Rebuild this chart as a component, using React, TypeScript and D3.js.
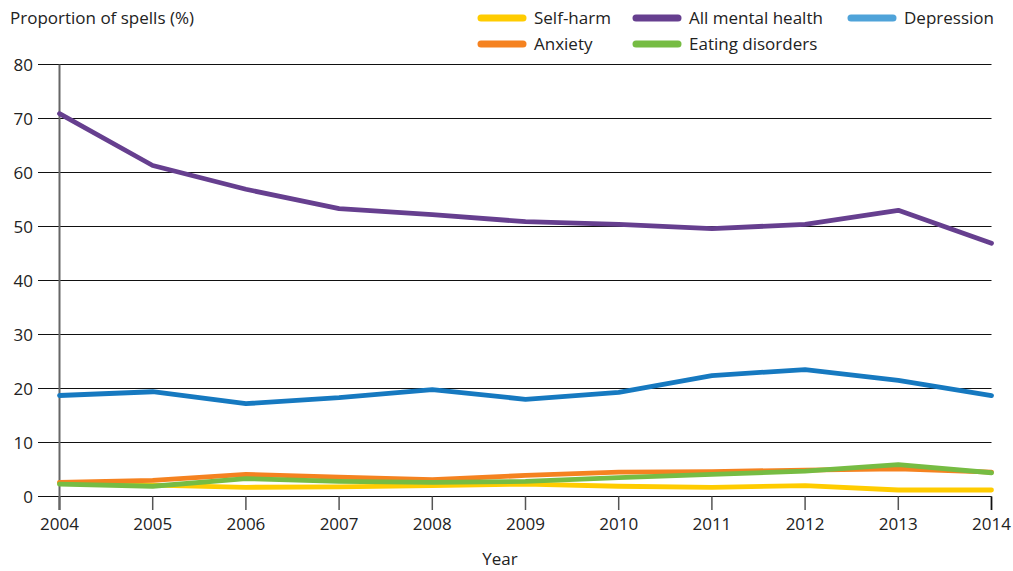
import React from "react";
import * as d3 from "d3";

const years = [2004, 2005, 2006, 2007, 2008, 2009, 2010, 2011, 2012, 2013, 2014];
const allMental = [70.9, 61.3, 56.9, 53.3, 52.2, 50.9, 50.4, 49.6, 50.4, 53.0, 46.9];
const depression = [18.7, 19.4, 17.2, 18.3, 19.8, 18.0, 19.3, 22.4, 23.5, 21.5, 18.7];
const selfHarm = [2.5, 2.1, 1.7, 1.8, 2.0, 2.3, 1.9, 1.7, 2.0, 1.2, 1.2];
const anxiety = [2.6, 3.0, 4.1, 3.6, 3.1, 3.9, 4.5, 4.6, 4.9, 5.1, 4.5];
const eating = [2.3, 1.9, 3.3, 2.8, 2.6, 2.8, 3.5, 4.1, 4.7, 5.9, 4.4];
const yTicks = [0, 10, 20, 30, 40, 50, 60, 70, 80];

const seriesDraw = [
  { name: "Self-harm", values: selfHarm, color: "#ffcc00" },
  { name: "Anxiety", values: anxiety, color: "#f58220" },
  { name: "Eating disorders", values: eating, color: "#76bc43" },
  { name: "Depression", values: depression, color: "#1679c0" },
  { name: "All mental health", values: allMental, color: "#663f8f" },
];

const legendItems = [
  { name: "Self-harm", color: "#ffcc00", x: 478, y: 18 },
  { name: "All mental health", color: "#663f8f", x: 633, y: 18 },
  { name: "Depression", color: "#4fa3d9", x: 848, y: 18 },
  { name: "Anxiety", color: "#f58220", x: 478, y: 44 },
  { name: "Eating disorders", color: "#76bc43", x: 633, y: 44 },
];

export default function App() {
  const W = 1013, H = 571;
  const x = d3.scaleLinear().domain([2004, 2014]).range([59.5, 991.5]);
  const y = d3.scaleLinear().domain([0, 80]).range([496.5, 64.5]);
  const line = d3.line<number>().x((_, i) => x(years[i])).y((d) => y(d)).curve(d3.curveLinear);
  const font = "'Open Sans', 'Noto Sans', sans-serif";
  const fs = 17;
  return (
    <svg width={W} height={H} style={{ position: "absolute", left: 0, top: 0, background: "#fff" }} fontFamily={font}>
      <text x={10} y={24} fontSize={fs} fill="#222">Proportion of spells (%)</text>
      {yTicks.map((t) => (
        <g key={t}>
          <line x1={38} x2={991.5} y1={y(t)} y2={y(t)} stroke="#111" strokeWidth={1.2} />
          <text x={33} y={y(t) + 6} fontSize={fs} textAnchor="end" fill="#222">{t}</text>
        </g>
      ))}
      <line x1={x(2004)} x2={x(2004)} y1={y(80)} y2={510} stroke="#666" strokeWidth={2} />
      {years.map((yr) => (
        <g key={yr}>
          <line x1={x(yr)} x2={x(yr)} y1={y(0)} y2={510} stroke={yr === 2004 ? "#666" : "#555"} strokeWidth={yr === 2004 ? 2 : 1.5} />
          <text x={x(yr)} y={530} fontSize={fs} textAnchor="middle" fill="#222">{yr}</text>
        </g>
      ))}
      <line x1={x(2014)} x2={x(2014)} y1={y(0)} y2={510} stroke="#111" strokeWidth={1.5} />
      <text x={500} y={565} fontSize={fs} textAnchor="middle" fill="#222">Year</text>
      {seriesDraw.map((s) => (
        <path key={s.name} d={line(s.values) || ""} fill="none" stroke={s.color} strokeWidth={4.8} strokeLinejoin="round" strokeLinecap="round" />
      ))}
      {legendItems.map((l) => (
        <g key={l.name}>
          <line x1={l.x + 3} x2={l.x + 45} y1={l.y} y2={l.y} stroke={l.color} strokeWidth={7} strokeLinecap="round" />
          <text x={l.x + 56} y={l.y + 6} fontSize={fs} fill="#222">{l.name}</text>
        </g>
      ))}
    </svg>
  );
}
